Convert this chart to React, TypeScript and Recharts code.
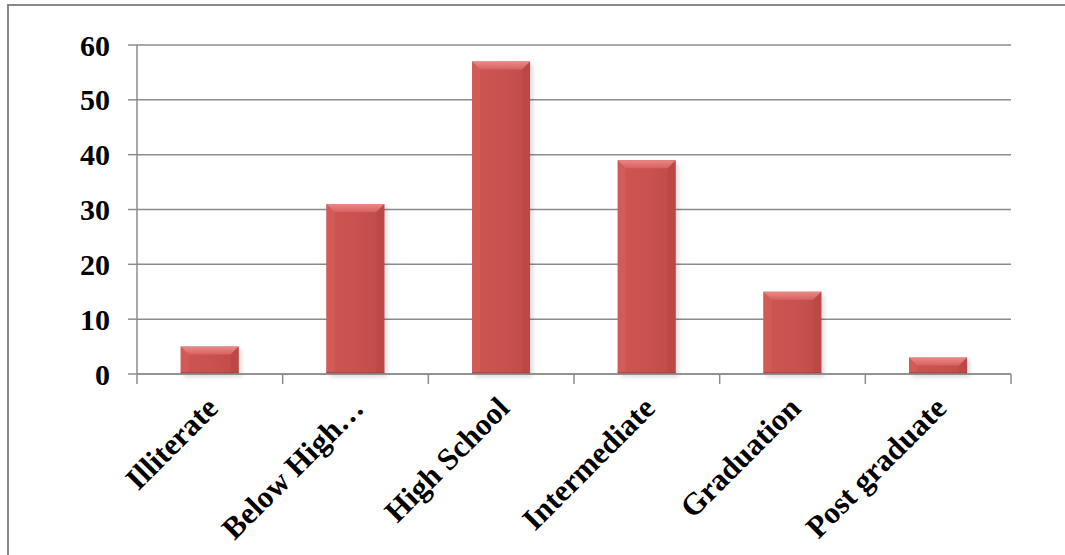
import React from "react";
import { BarChart, Bar, XAxis, YAxis, CartesianGrid } from "recharts";

const categories = ["Illiterate", "Below High…", "High School", "Intermediate", "Graduation", "Post graduate"];
const counts = [5, 31, 57, 39, 15, 3];
const yTicks = [0, 10, 20, 30, 40, 50, 60];

const data = categories.map((name, i) => ({ name, value: counts[i] }));

const FONT = "'Liberation Serif', 'Times New Roman', serif";
const AXIS_GREY = "#8c8c8c";

// bevelled bar, like the office "soft round" preset
const BevelBar = (props: any) => {
  const { x, y, width, height } = props;
  if (!height || height <= 0) return null;
  const b = Math.min(8, height / 2);
  return (
    <g>
      <rect x={x + 3} y={y + 3} width={width} height={height} fill="#000" opacity={0.13} filter="url(#barShadow)" />
      <rect x={x} y={y} width={width} height={height} fill="url(#barBody)" />
      {/* top bevel */}
      <polygon points={`${x},${y} ${x + width},${y} ${x + width - b},${y + b} ${x + b},${y + b}`} fill="url(#barTop)" />
      {/* side bevels */}
      <polygon points={`${x},${y} ${x + b},${y + b} ${x + b},${y + height - 2} ${x},${y + height}`} fill="#d65f5b" opacity={0.6} />
      <polygon points={`${x + width},${y} ${x + width - b},${y + b} ${x + width - b},${y + height - 2} ${x + width},${y + height}`} fill="#b44542" opacity={0.45} />
      <rect x={x} y={y + height - 2} width={width} height={2} fill="#9e3b38" opacity={0.6} />
    </g>
  );
};

// category label at the band centre, tick marks on the band edges
const CategoryTick = (props: any) => {
  const { x, y, payload, index, visibleTicksCount } = props;
  const half = payload.offset || 0;
  const last = index === visibleTicksCount - 1;
  const ax = x + 10;
  const ay = y + 28;
  return (
    <g>
      <line x1={x - half} y1={y - 8} x2={x - half} y2={y + 2} stroke={AXIS_GREY} strokeWidth={1.5} />
      {last && <line x1={x + half} y1={y - 8} x2={x + half} y2={y + 2} stroke={AXIS_GREY} strokeWidth={1.5} />}
      <text
        x={ax}
        y={ay}
        textAnchor="end"
        transform={`rotate(-45, ${ax}, ${ay})`}
        fontFamily={FONT}
        fontWeight="bold"
        fontSize={31}
        fill="#000"
      >
        {payload.value}
      </text>
    </g>
  );
};

export default function App() {
  return (
    <div style={{ position: "absolute", left: 0, top: 0, width: 1065, height: 555, background: "#fff" }}>
      <div
        style={{
          position: "absolute",
          left: 7,
          top: 4,
          right: 0,
          bottom: 0,
          borderTop: "2.5px solid #888",
          borderLeft: "2.5px solid #888",
        }}
      />
      <div style={{ position: "absolute", left: 0, top: 0 }}>
        <BarChart
          width={1065}
          height={555}
          data={data}
          margin={{ top: 45, right: 54, bottom: 0, left: 0 }}
          barCategoryGap="30%"
        >
          <defs>
            <linearGradient id="barBody" x1="0" y1="0" x2="1" y2="0">
              <stop offset="0%" stopColor="#cd5653" />
              <stop offset="50%" stopColor="#c9524f" />
              <stop offset="100%" stopColor="#c04b48" />
            </linearGradient>
            <linearGradient id="barTop" x1="0" y1="0" x2="0" y2="1">
              <stop offset="0%" stopColor="#e98986" />
              <stop offset="100%" stopColor="#d8625f" />
            </linearGradient>
            <filter id="barShadow" x="-20%" y="-20%" width="140%" height="140%">
              <feGaussianBlur stdDeviation="2" />
            </filter>
          </defs>
          <CartesianGrid vertical={false} stroke={AXIS_GREY} strokeWidth={1.5} />
          <XAxis
            dataKey="name"
            interval={0}
            height={181}
            axisLine={{ stroke: AXIS_GREY, strokeWidth: 1.5 }}
            tickLine={false}
            tick={<CategoryTick />}
          />
          <YAxis
            domain={[0, 60]}
            ticks={yTicks}
            width={137}
            tickSize={9}
            tickMargin={18}
            axisLine={{ stroke: AXIS_GREY, strokeWidth: 1.5 }}
            tickLine={{ stroke: AXIS_GREY, strokeWidth: 1.5 }}
            tick={{ fontFamily: FONT, fontWeight: "bold", fontSize: 30, fill: "#000" }}
          />
          <Bar dataKey="value" shape={<BevelBar />} isAnimationActive={false} />
        </BarChart>
      </div>
    </div>
  );
}
